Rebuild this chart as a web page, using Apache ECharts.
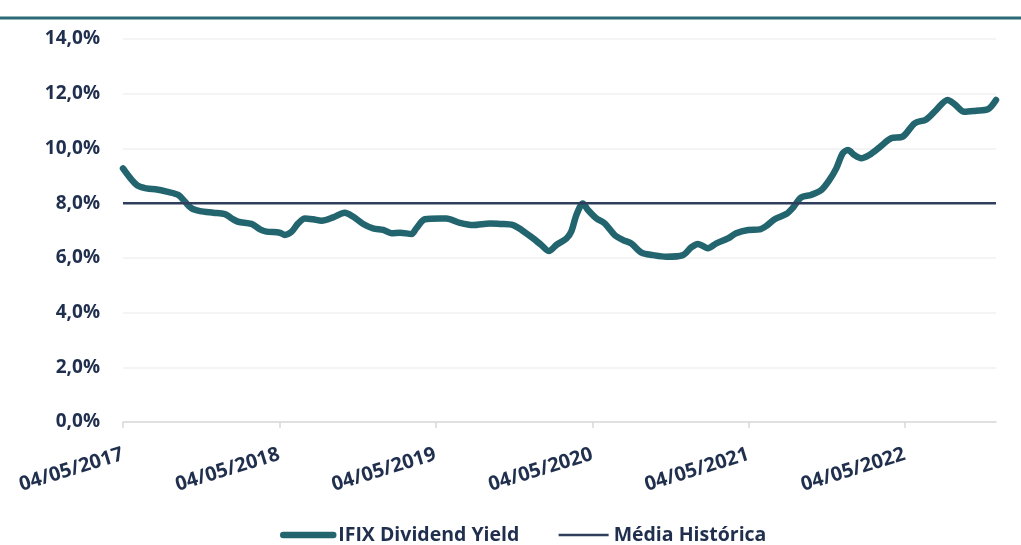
<!DOCTYPE html>
<html>
<head>
    <meta charset="utf-8">
    <title>IFIX Dividend Yield</title>
    <script src="https://cdn.jsdelivr.net/npm/echarts@6/dist/echarts.min.js"></script>
</head>
<body style="margin:0;background:#fff">
<div id="main" style="width:1021px;height:545px"></div>
<script type="text/javascript">
    // datas (aprox.)
    var datas = ['2017-05-04', '2017-06-05', '2017-06-28', '2017-07-22', '2017-08-14', '2017-09-10', '2017-09-26',
        '2017-10-11', '2017-10-31', '2017-12-01', '2017-12-28', '2018-01-13', '2018-01-28', '2018-02-28',
        '2018-03-20', '2018-04-04', '2018-05-05', '2018-05-17', '2018-06-02', '2018-06-17', '2018-07-03',
        '2018-07-22', '2018-08-11', '2018-09-07', '2018-10-04', '2018-10-24', '2018-11-16', '2018-12-09',
        '2019-01-02', '2019-01-21', '2019-02-10', '2019-03-09', '2019-03-20', '2019-04-09', '2019-05-14',
        '2019-05-29', '2019-06-30', '2019-07-31', '2019-09-08', '2019-10-01', '2019-11-01', '2019-11-21',
        '2019-12-18', '2020-01-06', '2020-01-24', '2020-02-10', '2020-03-05', '2020-03-16', '2020-03-28',
        '2020-04-12', '2020-04-24', '2020-05-14', '2020-06-02', '2020-06-25', '2020-07-15', '2020-08-03',
        '2020-08-27', '2020-09-23', '2020-10-24', '2020-12-02', '2020-12-21', '2021-01-06', '2021-01-29',
        '2021-02-18', '2021-03-17', '2021-04-05', '2021-05-03', '2021-05-30', '2021-06-14', '2021-07-04',
        '2021-07-31', '2021-08-16', '2021-09-04', '2021-09-27', '2021-10-21', '2021-11-09', '2021-11-25',
        '2021-12-10', '2021-12-22', '2022-01-06', '2022-01-22', '2022-02-10', '2022-03-06', '2022-04-02',
        '2022-04-29', '2022-05-27', '2022-06-23', '2022-07-16', '2022-08-12', '2022-08-28', '2022-09-20',
        '2022-10-18', '2022-11-14', '2022-12-03'];
    var dy = [9.27, 8.66, 8.54, 8.50, 8.42, 8.30, 8.05,
        7.81, 7.71, 7.65, 7.60, 7.44, 7.32, 7.24,
        7.04, 6.96, 6.92, 6.84, 6.96, 7.26, 7.44,
        7.41, 7.36, 7.48, 7.65, 7.50, 7.24, 7.08,
        7.02, 6.90, 6.92, 6.87, 7.08, 7.41, 7.44,
        7.44, 7.28, 7.20, 7.26, 7.24, 7.20, 7.02,
        6.71, 6.47, 6.25, 6.47, 6.71, 6.96, 7.57,
        7.99, 7.75, 7.44, 7.26, 6.84, 6.65, 6.53,
        6.19, 6.10, 6.04, 6.10, 6.38, 6.51, 6.35,
        6.53, 6.71, 6.90, 7.02, 7.04, 7.16, 7.41,
        7.60, 7.84, 8.21, 8.30, 8.48, 8.85, 9.27,
        9.82, 9.94, 9.76, 9.64, 9.76, 10.04, 10.37,
        10.43, 10.92, 11.06, 11.40, 11.77, 11.62, 11.34,
        11.38, 11.43, 11.77];
    var mediaHistorica = 8.0;
    var tickDatas = ['2017-05-04', '2018-05-04', '2019-05-04', '2020-05-04', '2021-05-04', '2022-05-04'];

    function ts(s) {
        var p = s.split('-');
        return Date.UTC(+p[0], +p[1] - 1, +p[2]);
    }
    function fmtData(v) {
        var d = new Date(v);
        var dd = ('0' + d.getUTCDate()).slice(-2), mm = ('0' + (d.getUTCMonth() + 1)).slice(-2);
        return dd + '/' + mm + '/' + d.getUTCFullYear();
    }

    var xMin = ts(datas[0]);
    var xMax = ts(datas[datas.length - 1]);
    var ticks = tickDatas.map(ts);
    var serieDY = datas.map(function (d, i) { return [ts(d), dy[i]]; });
    var serieMedia = [[xMin, mediaHistorica], [xMax, mediaHistorica]];

    var corLinha = '#23656f';
    var corMedia = '#2f3e5c';
    var corTexto = '#1f2f4d';
    var fonte = '"Open Sans", "Noto Sans", sans-serif';

    var myChart = echarts.init(document.getElementById('main'));
    var option = {
        animation: false,
        grid: {left: 123, right: 25, top: 39, bottom: 123},
        graphic: [{
            type: 'line',
            shape: {x1: 0, y1: 18, x2: 1021, y2: 18},
            style: {stroke: '#2b6b76', lineWidth: 3}
        }],
        legend: {
            left: 275,
            top: 520,
            itemWidth: 50,
            itemHeight: 14,
            itemGap: 38,
            textStyle: {color: corTexto, fontWeight: 'bold', fontSize: 19.5, fontFamily: fonte},
            data: [
                {name: 'IFIX Dividend Yield', itemStyle: {opacity: 0}, lineStyle: {width: 6.5, cap: 'round', color: corLinha}},
                {name: 'Média Histórica', itemStyle: {opacity: 0}, lineStyle: {width: 2.5, color: corMedia}}
            ]
        },
        xAxis: {
            type: 'value',
            min: xMin,
            max: xMax,
            splitLine: {show: false},
            axisLine: {lineStyle: {color: '#d9d9d9', width: 1.5}},
            axisTick: {show: true, length: 6, customValues: ticks, lineStyle: {color: '#d9d9d9', width: 1.5}},
            axisLabel: {
                customValues: ticks,
                rotate: 17,
                margin: 32,
                color: corTexto,
                fontWeight: 'bold',
                fontSize: 20,
                fontFamily: fonte,
                formatter: function (v) { return fmtData(v); }
            }
        },
        yAxis: {
            type: 'value',
            min: 0,
            max: 14,
            interval: 2,
            axisLine: {show: false},
            axisTick: {show: false},
            splitLine: {lineStyle: {color: '#f0f0f0', width: 1.5}},
            axisLabel: {
                margin: 23,
                color: corTexto,
                fontWeight: 'bold',
                fontSize: 19,
                fontFamily: fonte,
                formatter: function (v) { return v.toFixed(1).replace('.', ',') + '%'; }
            }
        },
        series: [
            {
                name: 'IFIX Dividend Yield',
                type: 'line',
                data: serieDY,
                showSymbol: false,
                symbol: 'none',
                smooth: 0.3,
                z: 2,
                lineStyle: {color: corLinha, width: 6.5, cap: 'round', join: 'round'},
                itemStyle: {color: corLinha}
            },
            {
                name: 'Média Histórica',
                type: 'line',
                data: serieMedia,
                symbol: 'none',
                z: 3,
                lineStyle: {color: corMedia, width: 2.5},
                itemStyle: {color: corMedia}
            }
        ]
    };
    myChart.setOption(option);
</script>
</body>
</html>
